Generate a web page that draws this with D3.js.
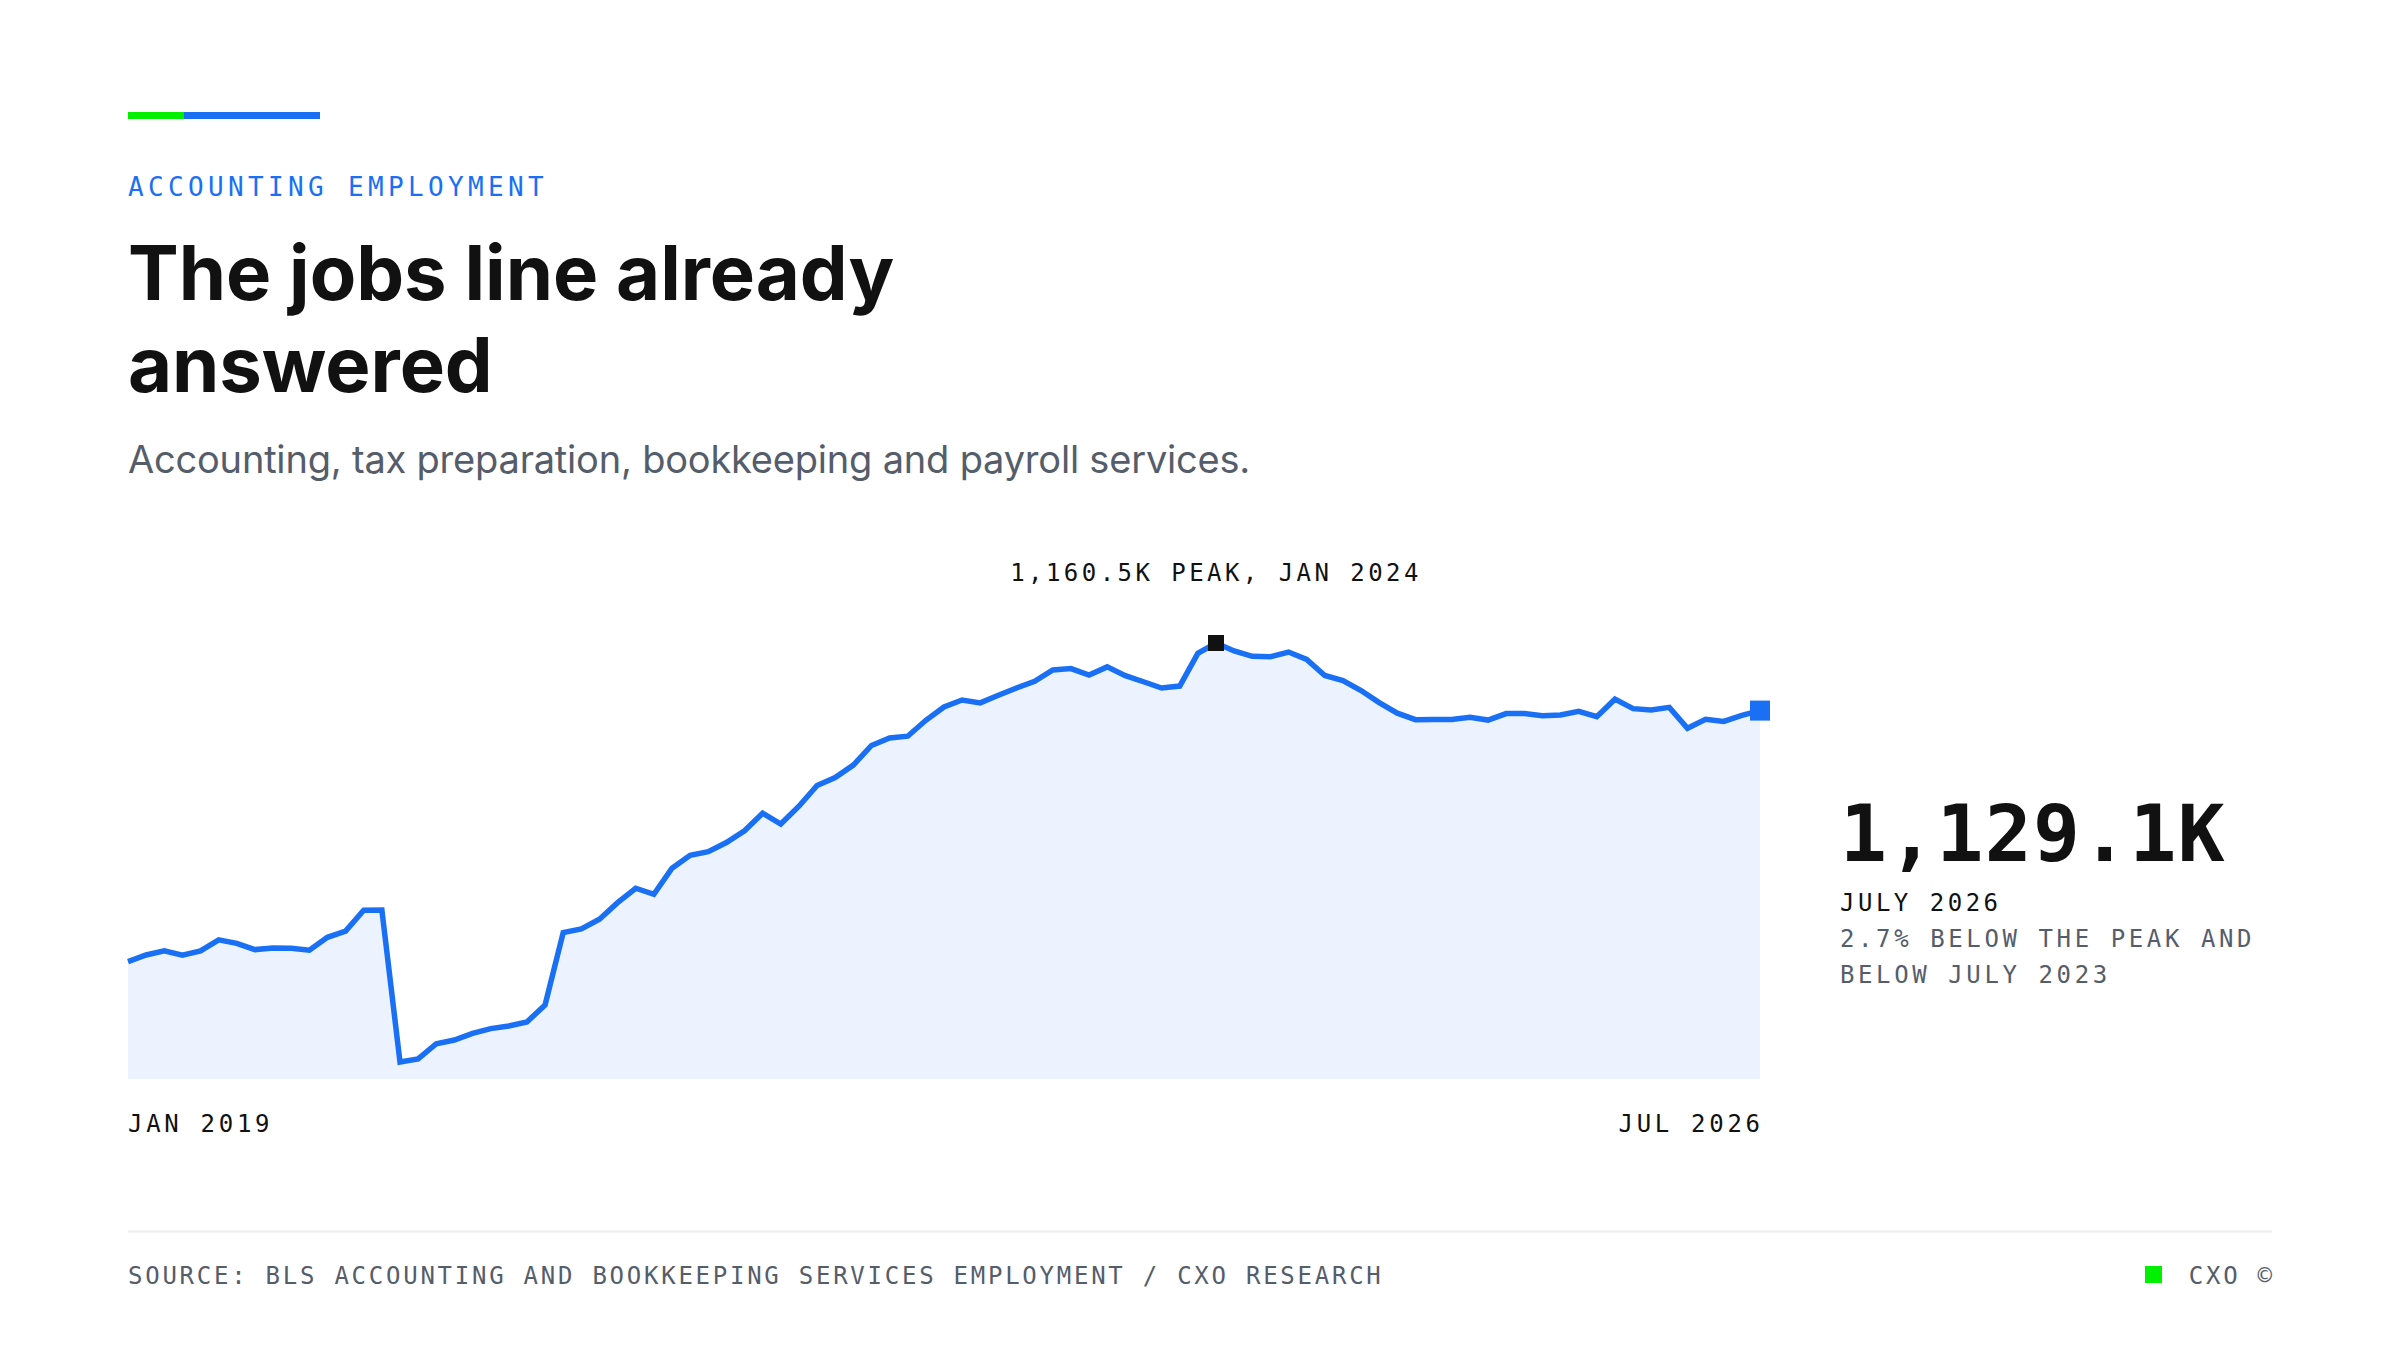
<!DOCTYPE html>
<html>
<head>
<meta charset="utf-8">
<script src="https://cdn.jsdelivr.net/npm/d3@7"></script>
<style>
  html, body { margin: 0; padding: 0; background: #ffffff; }
  svg { display: block; }
</style>
</head>
<body>
<div id="chart"></div>
<script>
// ---------- DATA ----------
const startMonth = "2019-01";
// Accounting, tax prep, bookkeeping & payroll services employment (thousands), Jan 2019 – Jul 2026
const employment = [
  1012.5, 1015.6, 1017.5, 1015.5, 1017.5, 1022.6, 1021.0, 1018.1, 1018.8, 1018.7, 1017.8, 1023.8,
  1026.7, 1036.4, 1036.5, 965.9, 967.3, 974.4, 976.1, 979.2, 981.4, 982.6, 984.5, 992.4,
  1026.0, 1027.7, 1032.2, 1039.9, 1046.6, 1043.8, 1055.9, 1061.9, 1063.6, 1067.8, 1073.3, 1081.4,
  1076.4, 1084.7, 1094.3, 1098.0, 1103.8, 1112.9, 1116.4, 1117.2, 1124.6, 1130.8, 1134.0, 1132.7,
  1136.2, 1139.6, 1142.7, 1148.0, 1148.6, 1145.6, 1149.4, 1145.3, 1142.5, 1139.6, 1140.5, 1155.7,
  1160.5, 1156.8, 1154.3, 1154.1, 1156.3, 1152.9, 1145.4, 1143.0, 1138.4, 1132.8, 1127.9, 1124.9,
  1125.0, 1125.0, 1126.0, 1124.7, 1127.7, 1127.7, 1126.7, 1127.1, 1128.8, 1126.3, 1134.4, 1130.0,
  1129.4, 1130.6, 1120.9, 1125.1, 1124.1, 1126.9, 1129.1
];
const axisLabels = ["JAN 2019", "JUL 2026"];
const yDomain = [958, 1180];

const eyebrow = "ACCOUNTING EMPLOYMENT";
const titleLines = ["The jobs line already", "answered"];
const subtitle = "Accounting, tax preparation, bookkeeping and payroll services.";
const peakLabel = "1,160.5K PEAK, JAN 2024";
const latestValue = "1,129.1K";
const latestMonth = "JULY 2026";
const latestNote = ["2.7% BELOW THE PEAK AND", "BELOW JULY 2023"];
const sourceText = "SOURCE: BLS ACCOUNTING AND BOOKKEEPING SERVICES EMPLOYMENT / CXO RESEARCH";
const brandText = "CXO ©";

// ---------- SETUP ----------
const W = 2400, H = 1350;
const BLUE = "#1a70f5", GREEN = "#00f000", INK = "#111111", GREY = "#555d6b";
const MONO = "'DejaVu Sans Mono', 'Liberation Mono', monospace";
const SANS = "Inter, Roboto, 'Noto Sans', sans-serif";

const svg = d3.select("#chart").append("svg")
  .attr("width", W).attr("height", H).attr("viewBox", `0 0 ${W} ${H}`);

const parseMonth = d3.timeParse("%Y-%m");
const start = parseMonth(startMonth);
const data = employment.map((v, i) => ({ i, date: d3.timeMonth.offset(start, i), value: v }));

// ---------- HEADER ----------
const L = 128;
svg.append("rect").attr("x", L).attr("y", 112).attr("width", 56).attr("height", 7).attr("fill", GREEN);
svg.append("rect").attr("x", L + 56).attr("y", 112).attr("width", 136).attr("height", 7).attr("fill", BLUE);

svg.append("text").attr("x", L).attr("y", 196)
  .attr("font-family", MONO).attr("font-size", 26).attr("letter-spacing", 4.35)
  .attr("fill", BLUE).text(eyebrow);

const title = svg.append("text").attr("font-family", SANS).attr("font-weight", 700)
  .attr("font-size", 76).attr("fill", INK).attr("letter-spacing", -0.05);
titleLines.forEach((t, k) => title.append("tspan").attr("x", L).attr("y", 300 + k * 92).text(t));

svg.append("text").attr("x", L).attr("y", 473)
  .attr("font-family", SANS).attr("font-size", 38).attr("letter-spacing", -0.2)
  .attr("fill", GREY).text(subtitle);

// ---------- CHART ----------
const x = d3.scaleLinear().domain([0, employment.length - 1]).range([128, 1760]);
const y = d3.scaleLinear().domain(yDomain).range([1079, 601]);

svg.append("path").datum(data)
  .attr("fill", "#ecf3fe")
  .attr("d", d3.area().x(d => x(d.i)).y0(y(yDomain[0])).y1(d => y(d.value)));

svg.append("path").datum(data)
  .attr("fill", "none").attr("stroke", BLUE).attr("stroke-width", 5.5)
  .attr("stroke-linejoin", "miter").attr("stroke-linecap", "butt")
  .attr("d", d3.line().x(d => x(d.i)).y(d => y(d.value)));

// peak marker
const peak = data.reduce((a, b) => (b.value > a.value ? b : a));
svg.append("rect")
  .attr("x", x(peak.i) - 8).attr("y", y(peak.value) - 8)
  .attr("width", 16).attr("height", 16).attr("fill", INK);
svg.append("text").attr("x", x(peak.i)).attr("y", y(peak.value) - 62)
  .attr("text-anchor", "middle").attr("font-family", MONO).attr("font-size", 24)
  .attr("letter-spacing", 3.45).attr("fill", INK).text(peakLabel);

// latest marker
const last = data[data.length - 1];
svg.append("rect")
  .attr("x", x(last.i) - 10).attr("y", y(last.value) - 10)
  .attr("width", 20).attr("height", 20).attr("fill", BLUE);

// x labels
const axisLS = 3.7;
svg.append("text").attr("x", x(0)).attr("y", 1132)
  .attr("font-family", MONO).attr("font-size", 24).attr("letter-spacing", axisLS)
  .attr("fill", INK).text(axisLabels[0]);
svg.append("text").attr("x", x(last.i) + axisLS).attr("y", 1132).attr("text-anchor", "end")
  .attr("font-family", MONO).attr("font-size", 24).attr("letter-spacing", axisLS)
  .attr("fill", INK).text(axisLabels[1]);

// ---------- CALLOUT ----------
const CX = 1840;
svg.append("text").attr("x", CX).attr("y", 861)
  .attr("font-family", MONO).attr("font-weight", 700).attr("font-size", 78)
  .attr("letter-spacing", 1.3).attr("fill", INK).text(latestValue);
svg.append("text").attr("x", CX).attr("y", 911)
  .attr("font-family", MONO).attr("font-size", 24).attr("letter-spacing", 3.5)
  .attr("fill", INK).text(latestMonth);
latestNote.forEach((t, k) => svg.append("text").attr("x", CX).attr("y", 947 + k * 36)
  .attr("font-family", MONO).attr("font-size", 24).attr("letter-spacing", 3.6)
  .attr("fill", GREY).text(t));

// ---------- FOOTER ----------
svg.append("line").attr("x1", L).attr("x2", 2272).attr("y1", 1231.5).attr("y2", 1231.5)
  .attr("stroke", "#eeeeee").attr("stroke-width", 2);
svg.append("text").attr("x", L).attr("y", 1284)
  .attr("font-family", MONO).attr("font-size", 24).attr("letter-spacing", 2.75)
  .attr("fill", GREY).text(sourceText);
svg.append("text").attr("x", 2272 + 2.75).attr("y", 1284).attr("text-anchor", "end")
  .attr("font-family", MONO).attr("font-size", 24).attr("letter-spacing", 2.75)
  .attr("fill", GREY).text(brandText);
svg.append("rect").attr("x", 2145).attr("y", 1266).attr("width", 17).attr("height", 17).attr("fill", GREEN);
</script>
</body>
</html>
